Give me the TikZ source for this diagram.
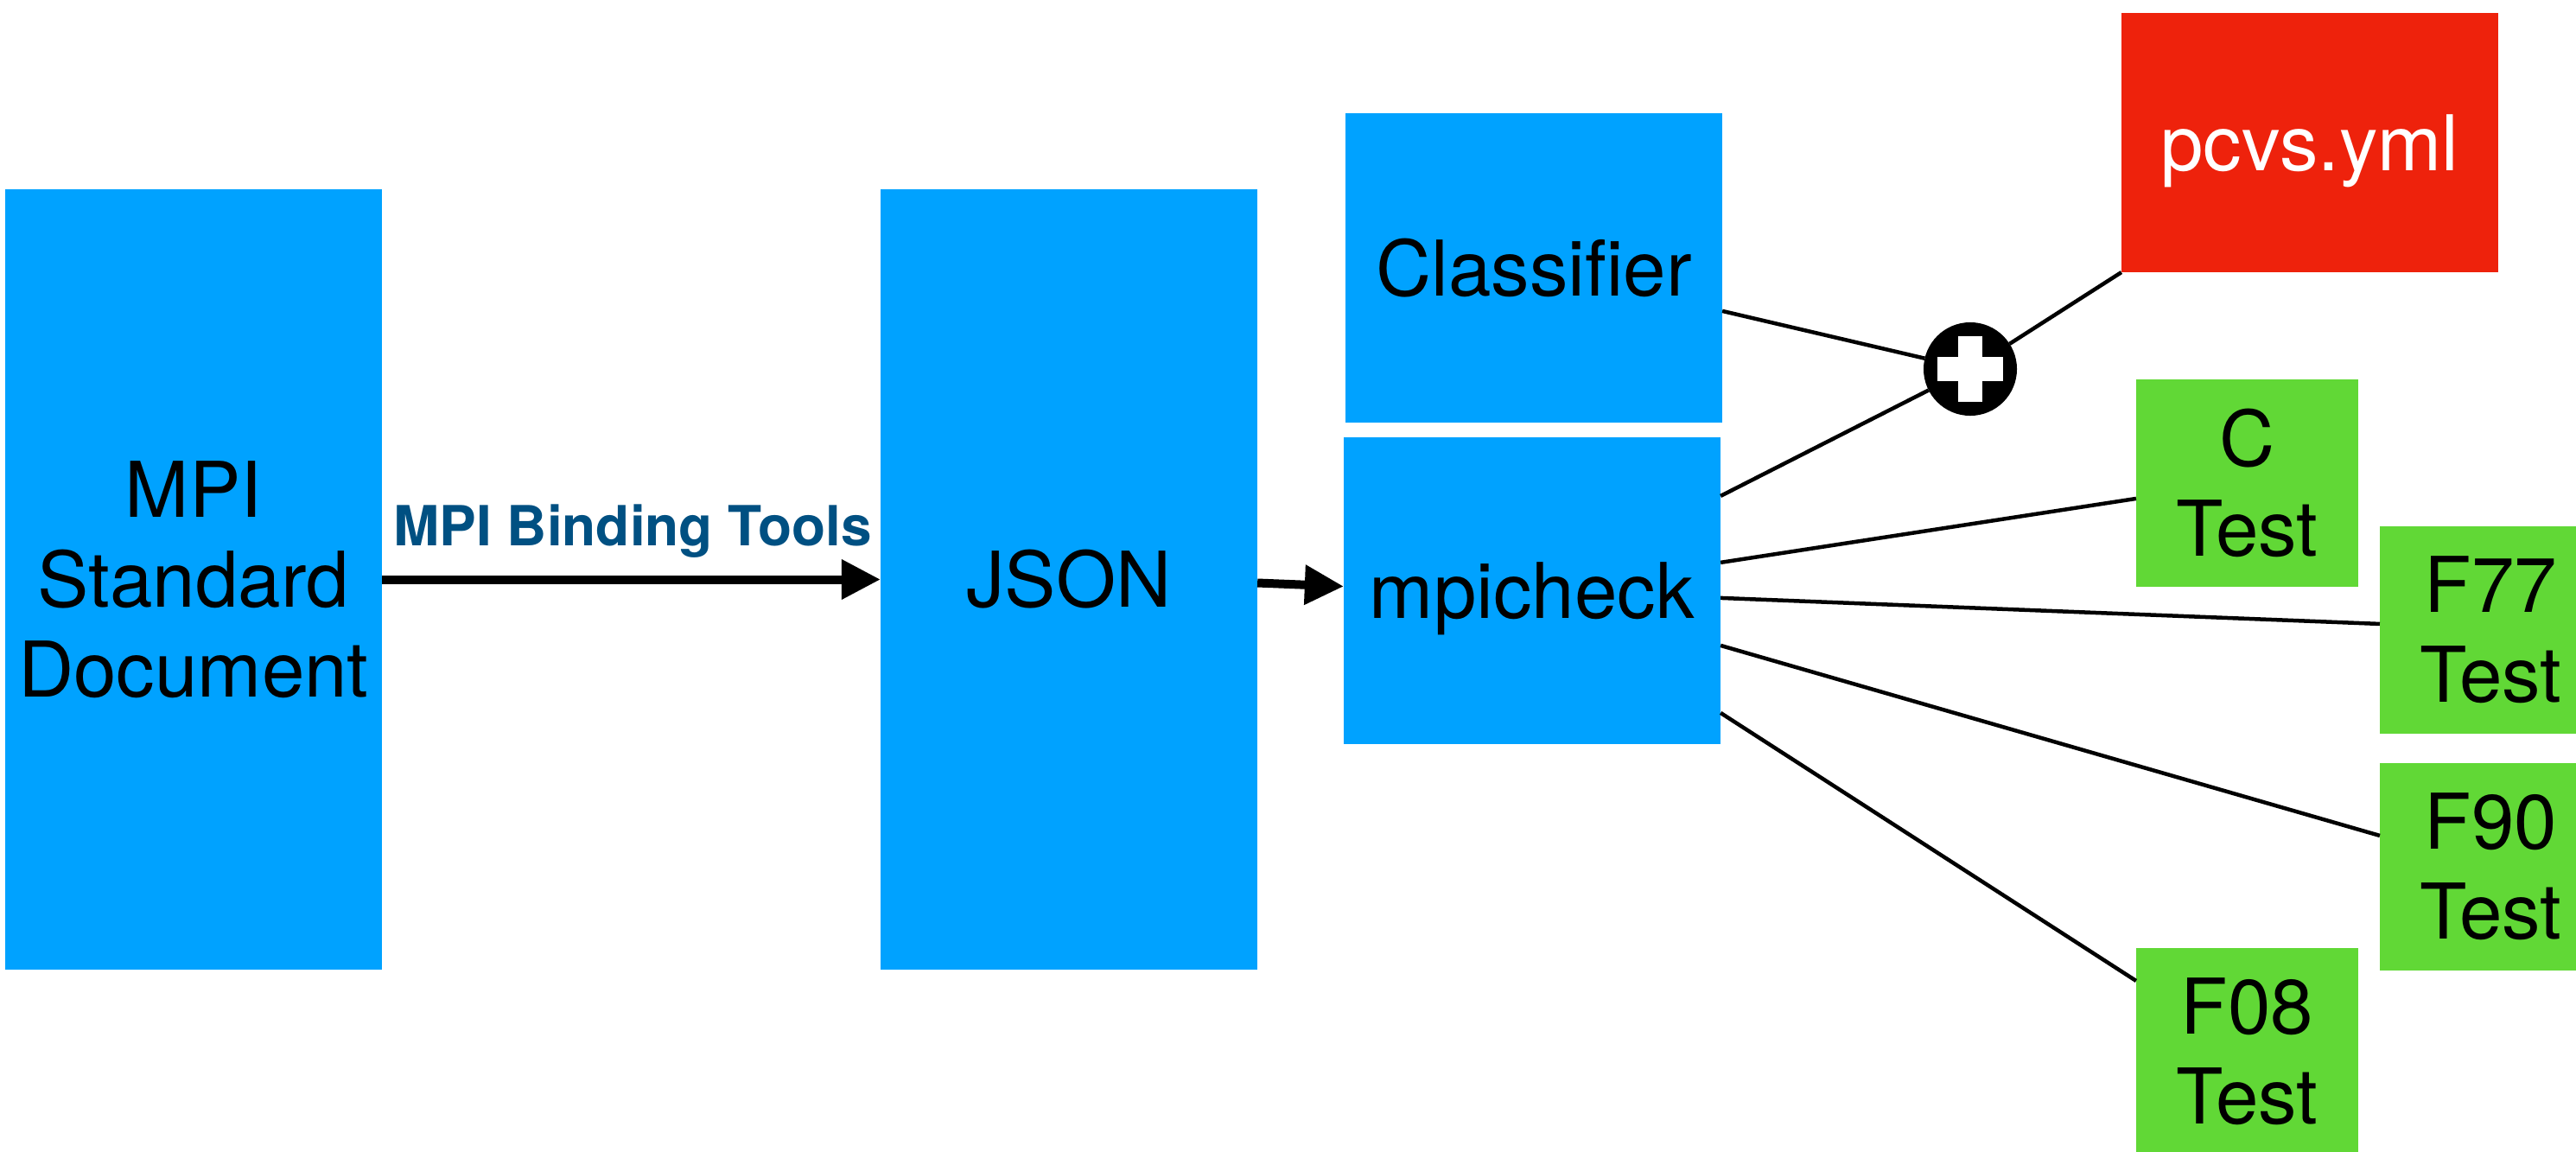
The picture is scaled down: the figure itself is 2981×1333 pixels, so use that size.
\documentclass[tikz,border=0pt]{standalone}
\usepackage{fontspec}
\setmainfont{TeX Gyre Heros}
\usetikzlibrary{arrows.meta,calc}
\definecolor{boxblue}{RGB}{0,162,255}
\definecolor{boxred}{RGB}{238,34,12}
\definecolor{boxgreen}{RGB}{97,216,54}
\definecolor{lblblue}{RGB}{0,80,130}
\tikzset{
  basebox/.style={rectangle, inner sep=0pt, outer sep=0pt, align=center,
    font=\fontsize{25.3}{29.6}\selectfont, text=black},
  bluebox/.style={basebox, fill=boxblue, minimum width=4.36cm, minimum height=#1},
  redbox/.style={basebox, fill=boxred, text=white, minimum width=4.36cm, minimum height=3.00cm},
  greenbox/.style={basebox, fill=boxgreen, minimum width=2.57cm, minimum height=2.40cm},
  thinline/.style={line width=0.045cm, black},
  bigarrow/.style={line width=0.1cm, black, -{Triangle[length=0.45cm, width=0.44cm]}},
  lbl/.style={anchor=base, inner sep=0pt, text=lblblue, font=\fontsize{18.2}{22}\selectfont\bfseries},
  plusnode/.style={circle, fill=black, minimum size=1.08cm, inner sep=0pt, outer sep=0pt}
}
\begin{document}
\begin{tikzpicture}[x=0.01cm, y=-0.01cm]
\clip (0,0) rectangle (2981,1333);
\fill[white] (0,0) rectangle (2981,1333);

% boxes
\node[bluebox=9.03cm] (mpi) at (224,670.5) {MPI\\Standard\\Document};
\node[bluebox=9.03cm] (json) at (1237,670.5) {JSON};
\node[bluebox=3.58cm] (classifier) at (1775,310) {Classifier};
\node[bluebox=3.55cm, text depth=0pt] (mpicheck) at (1773,683.5) {mpicheck};
\node[redbox, text depth=0pt] (pcvs) at (2673,165) {pcvs.yml};
\node[greenbox] (ctest) at (2600.5,559) {C\\Test};
\node[greenbox] (f77) at (2882.5,729) {F77\\Test};
\node[greenbox] (f90) at (2882.5,1003) {F90\\Test};
\node[greenbox] (f08) at (2600.5,1217) {F08\\Test};

% merge symbol
\node[plusnode] (plus) at (2280,427) {};
\fill[white] ($(plus)+(-38,-14)$) rectangle ($(plus)+(38,14)$);
\fill[white] ($(plus)+(-14,-38)$) rectangle ($(plus)+(14,38)$);

% arrows
\draw[bigarrow] (mpi.east) -- (json.west);
\node[lbl] (bindlbl) at (732,631) {MPI Binding Tools};
\draw[bigarrow] ($(json.east)+(0,4)$) -- ($(mpicheck.west)+(0,-5)$);

% connectors
\draw[thinline] ($(classifier.north east)+(0,229)$) -- (plus);
\draw[thinline] ($(mpicheck.north east)+(0,68)$) -- (plus);
\draw[thinline] (plus) -- (pcvs.south west);
\draw[thinline] ($(mpicheck.north east)+(0,145)$) -- ($(ctest.north west)+(0,138)$);
\draw[thinline] ($(mpicheck.north east)+(0,186)$) -- ($(f77.north west)+(0,113)$);
\draw[thinline] ($(mpicheck.north east)+(0,241)$) -- ($(f90.north west)+(0,84)$);
\draw[thinline] ($(mpicheck.north east)+(0,319)$) -- ($(f08.north west)+(0,38)$);
\end{tikzpicture}
\end{document}
